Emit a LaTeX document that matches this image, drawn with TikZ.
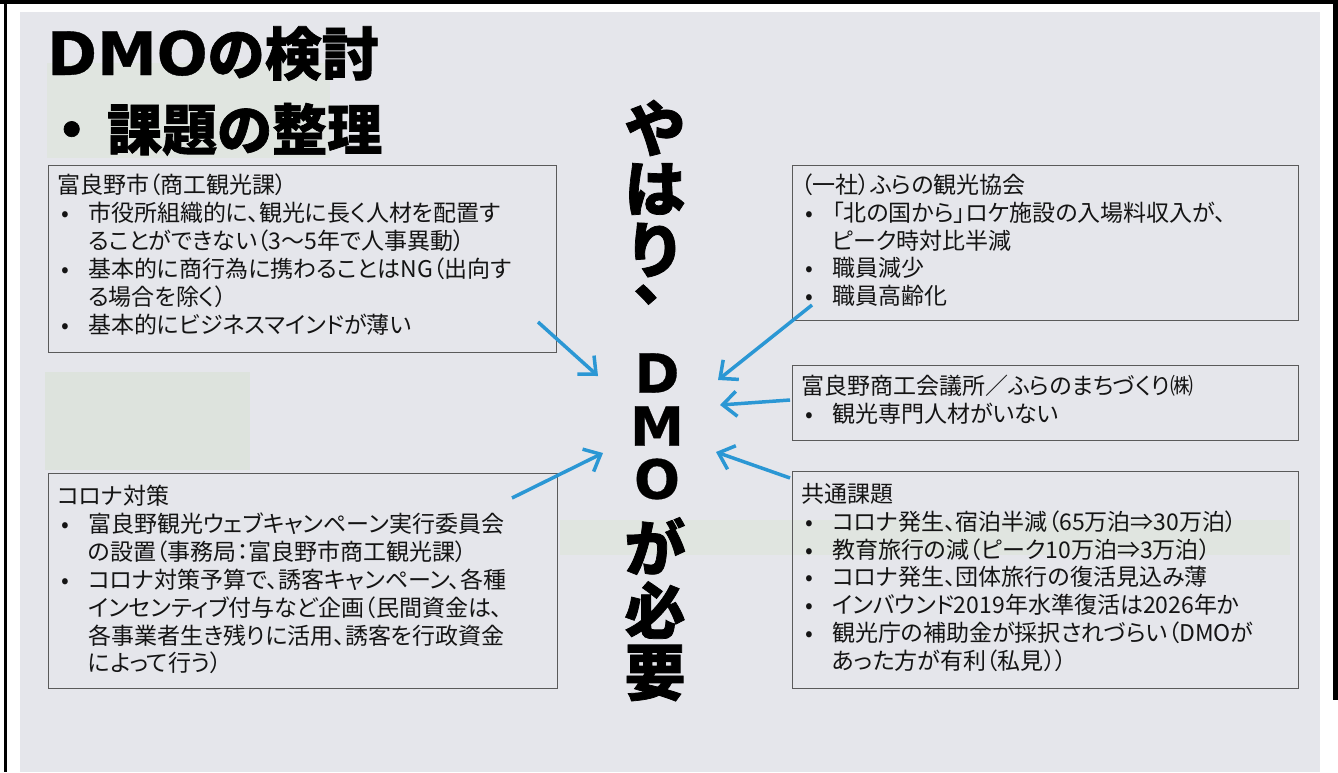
\documentclass[tikz,border=0pt]{standalone}
\usepackage{fontspec}
\usetikzlibrary{arrows.meta}
\newfontfamily\jp[RawFeature={+palt}]{Noto Sans CJK JP}
\newfontfamily\jpt[BoldFeatures={FakeBold=1.2}]{Noto Sans CJK JP}
\newfontfamily\dv[BoldFeatures={FakeBold=0.6}]{DejaVu Sans}
\definecolor{bg}{HTML}{E5E6EB}
\definecolor{tintg}{HTML}{E0E5E0}
\definecolor{tintd}{HTML}{DDE3DD}
\definecolor{arrowblue}{HTML}{2B97D4}
\definecolor{boxline}{HTML}{5A5A5A}
\definecolor{ink}{HTML}{141414}
\tikzset{
  panel/.style={draw=boxline, line width=1.1pt, anchor=north west, inner sep=0pt},
  body/.style={anchor=north west, inner sep=0pt, text=ink, font=\jp\fontsize{23}{27.5}\selectfont},
  bigchar/.style={text=black, inner sep=0pt, font=\jpt\bfseries\fontsize{61}{61}\selectfont},
  latinchar/.style={text=black, inner sep=0pt, font=\dv\bfseries\fontsize{54}{54}\selectfont},
  link/.style={draw=arrowblue, line width=3.5pt, -{Straight Barb[length=14pt,width=25pt,line width=3.5pt]}}
}
\newcommand{\bul}{\hspace{4pt}•}
\begin{document}
\begin{tikzpicture}[x=1pt,y=-1pt]
\useasboundingbox (0,0) rectangle (1338,772);
% paper and frame
\fill[white] (0,0) rectangle (1338,772);
\fill[bg] (20,12) rectangle (1320,772);
\fill[tintg] (47,63) rectangle (330,158);
\fill[tintd] (45,372) rectangle (250,470);
\fill[tintg] (560,520) rectangle (1290,555);
\fill[black] (0,0) rectangle (1338,4);
\fill[black] (4,0) rectangle (7,772);
\fill[black] (1333,0) rectangle (1338,700);

% title
\node[anchor=base west, inner sep=0pt, text=black] (t1) at (47,75)
  {{\dv\bfseries\fontsize{60}{60}\selectfont DMO}{\jpt\bfseries\fontsize{57}{57}\selectfont の検討}};
\node[anchor=base west, inner sep=0pt, text=black] (t2) at (44,150)
  {\jpt\bfseries\fontsize{55}{55}\selectfont ・\hspace{8pt}課題の整理};

% boxes
\node[panel, minimum width=508pt, minimum height=187pt] (b1) at (48,165) {};
\node[body] (b1t) at (57,174) {\begin{tabular}{@{}p{31pt}@{}l@{}}
\multicolumn{2}{@{}l@{}}{富良野市（商工観光課）}\\
\bul & 市役所組織的に、観光に長く人材を配置す\\
 & ることができない（3～5年で人事異動）\\
\bul & 基本的に商行為に携わることはNG（出向す\\
 & る場合を除く）\\
\bul & 基本的にビジネスマインドが薄い
\end{tabular}};

\node[panel, minimum width=506pt, minimum height=155pt] (b2) at (792,165) {};
\node[body] (b2t) at (801,174) {\begin{tabular}{@{}p{31pt}@{}l@{}}
\multicolumn{2}{@{}l@{}}{（一社）ふらの観光協会}\\
\bul & 「北の国から」ロケ施設の入場料収入が、\\
 & ピーク時対比半減\\
\bul & 職員減少\\
\bul & 職員高齢化
\end{tabular}};

\node[panel, minimum width=506pt, minimum height=75pt] (b3) at (792,365) {};
\node[body] (b3t) at (801,375) {\begin{tabular}{@{}p{31pt}@{}l@{}}
\multicolumn{2}{@{}l@{}}{富良野商工会議所／ふらのまちづくり㈱}\\
\bul & 観光専門人材がいない
\end{tabular}};

\node[panel, minimum width=506pt, minimum height=217pt] (b4) at (792,471) {};
\node[body] (b4t) at (801,483) {\begin{tabular}{@{}p{31pt}@{}l@{}}
\multicolumn{2}{@{}l@{}}{共通課題}\\
\bul & コロナ発生、宿泊半減（65万泊⇒30万泊）\\
\bul & 教育旅行の減（ピーク10万泊⇒3万泊）\\
\bul & コロナ発生、団体旅行の復活見込み薄\\
\bul & インバウンド2019年水準復活は2026年か\\
\bul & 観光庁の補助金が採択されづらい（DMOが\\
 & あった方が有利（私見））
\end{tabular}};

\node[panel, minimum width=509pt, minimum height=215pt] (b5) at (48,473) {};
\node[body] (b5t) at (57,485) {\begin{tabular}{@{}p{31pt}@{}l@{}}
\multicolumn{2}{@{}l@{}}{コロナ対策}\\
\bul & 富良野観光ウェブキャンペーン実行委員会\\
 & の設置（事務局：富良野市商工観光課）\\
\bul & コロナ対策予算で、誘客キャンペーン、各種\\
 & インセンティブ付与など企画（民間資金は、\\
 & 各事業者生き残りに活用、誘客を行政資金\\
 & によって行う）
\end{tabular}};

% vertical message
\node[bigchar] (v1) at (655,128) {や};
\node[bigchar] (v2) at (655,189) {は};
\node[bigchar] (v3) at (655,250) {り};
\node[bigchar, anchor=base, text height=15pt, text depth=0pt] (v4) at (664,300) {、};
\node[latinchar] (v5) at (657,373) {D};
\node[latinchar] (v6) at (657,426) {M};
\node[latinchar] (v7) at (657,479) {O};
\node[bigchar] (v8) at (655,546) {が};
\node[bigchar] (v9) at (655,610) {必};
\node[bigchar] (v10) at (655,673) {要};

% arrows
\coordinate (a1s) at (538,322); \coordinate (a1e) at (598,376);
\coordinate (a2s) at (812,305); \coordinate (a2e) at (718,380);
\coordinate (a3s) at (790,400); \coordinate (a3e) at (720,405);
\coordinate (a4s) at (790,478); \coordinate (a4e) at (716,452);
\coordinate (a5s) at (512,498); \coordinate (a5e) at (603,453);
\draw[link] (a1s) -- (a1e);
\draw[link] (a2s) -- (a2e);
\draw[link] (a3s) -- (a3e);
\draw[link] (a4s) -- (a4e);
\draw[link] (a5s) -- (a5e);
\end{tikzpicture}
\end{document}
